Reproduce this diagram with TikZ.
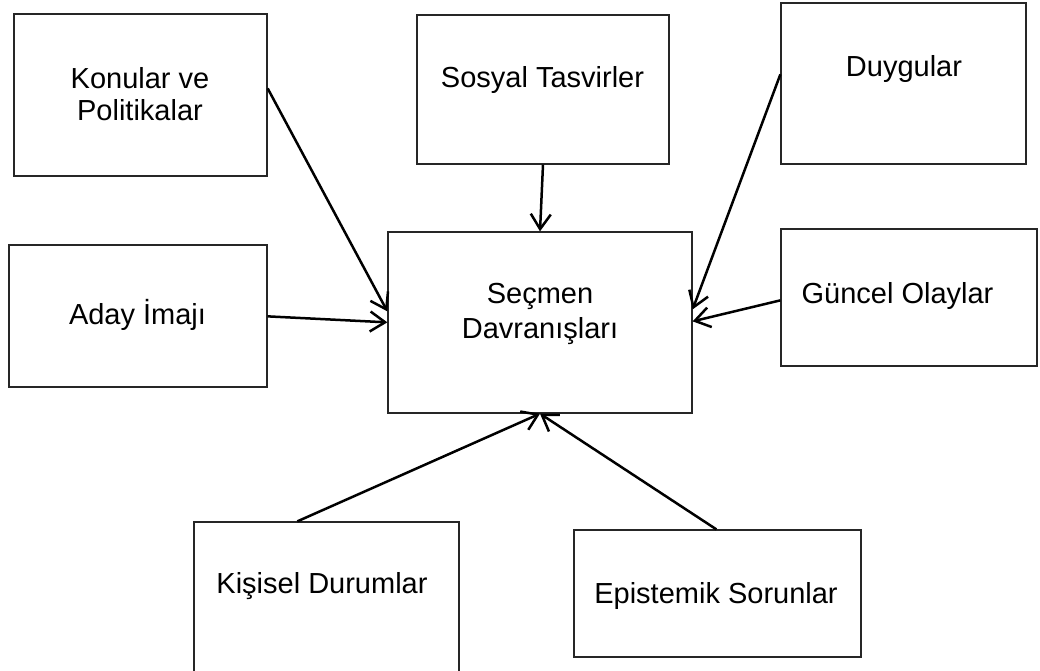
\documentclass[tikz,border=0pt]{standalone}
\usepackage{fontspec}
\setmainfont{Liberation Sans}
\usetikzlibrary{arrows.meta}
\begin{document}
\begin{tikzpicture}[x=1pt,y=-1pt,
  box/.style={draw=black!85,line width=1.3pt,inner sep=0pt,fill=none},
  lbl/.style={font=\fontsize{29}{35}\selectfont,inner sep=0pt,anchor=base,align=center},
  conn/.style={line width=2.5pt,-{Straight Barb[length=15pt,width=20pt,line width=2.5pt]}}]
\useasboundingbox[fill=white] (0,0) rectangle (1040,670);
% boxes
\node[box,minimum width=253pt,minimum height=162pt] (kon) at (140.5,95) {};
\node[box,minimum width=252pt,minimum height=149pt] (sos) at (543,89.5) {};
\node[box,minimum width=245pt,minimum height=161pt] (duy) at (903.5,83.5) {};
\node[box,minimum width=258pt,minimum height=142pt] (aday) at (138,316) {};
\node[box,minimum width=304pt,minimum height=181pt] (sec) at (540,322.5) {};
\node[box,minimum width=256pt,minimum height=137pt] (gun) at (909,297.5) {};
\node[box,minimum width=265pt,minimum height=153pt] (kis) at (326.5,598.5) {};
\node[box,minimum width=287pt,minimum height=127pt] (epi) at (717.5,593.5) {};
% labels
\node[lbl] (konT) at (140,88) {Konular ve};
\node[lbl] (konT2) at (140,120) {Politikalar};
\node[lbl] (sosT) at (542.5,87) {Sosyal Tasvirler};
\node[lbl] (duyT) at (904,76) {Duygular};
\node[lbl] (adayT) at (137.5,324) {Aday İmajı};
\node[lbl] (secT) at (540,303) {Seçmen};
\node[lbl] (secT2) at (540,338) {Davranışları};
\node[lbl] (gunT) at (897.5,303) {Güncel Olaylar};
\node[lbl] (kisT) at (322,593) {Kişisel Durumlar};
\node[lbl] (epiT) at (716,603) {Epistemik Sorunlar};
% connectors
\draw[conn] ([yshift=-75pt]kon.north east) -- ([yshift=-80pt]sec.north west);
\draw[conn] (sos.south) -- (sec.north);
\draw[conn] ([yshift=-72pt]duy.north west) -- ([yshift=-78pt]sec.north east);
\draw[conn] ([yshift=-72pt]aday.north east) -- ([yshift=-91pt]sec.north west);
\draw[conn] ([yshift=-72pt]gun.north west) -- ([yshift=-90pt]sec.north east);
\draw[conn] ([xshift=104pt]kis.north west) -- (sec.south);
\draw[conn] ([xshift=143pt]epi.north west) -- (sec.south);
\end{tikzpicture}
\end{document}
